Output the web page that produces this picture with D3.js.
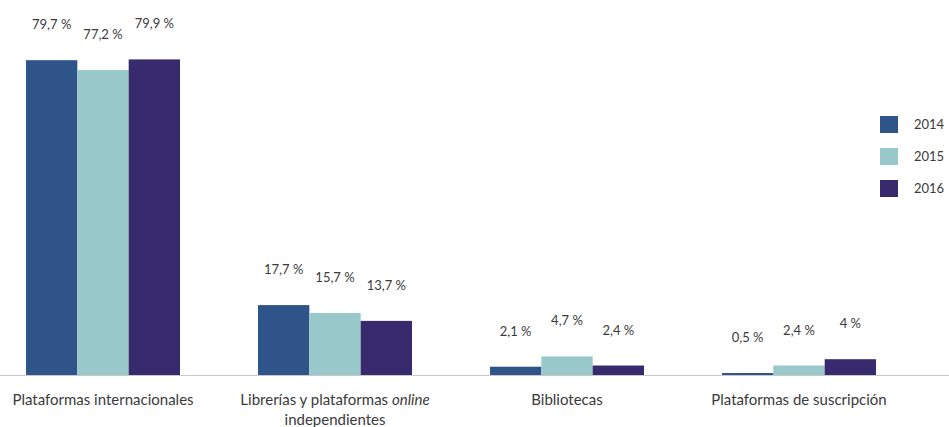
<!DOCTYPE html>
<html>
<head>
<meta charset="utf-8">
<script src="https://cdn.jsdelivr.net/npm/d3@7"></script>
<style>
  body { margin: 0; background: #fff; }
  svg text { font-family: Lato, "Open Sans", sans-serif; fill: #3a3a3a; }
</style>
</head>
<body>
<script>
// categories and series
var categories = ["Plataformas internacionales", "Librerías y plataformas online independientes", "Bibliotecas", "Plataformas de suscripción"];
var years = ["2014", "2015", "2016"];
var values2014 = [79.7, 17.7, 2.1, 0.5];
var values2015 = [77.2, 15.7, 4.7, 2.4];
var values2016 = [79.9, 13.7, 2.4, 4];
var colours = ["#2f5489", "#99c8ca", "#382b6d"];

var width = 949, height = 427;
var baseline = 375;

var series = [values2014, values2015, values2016];
var data = categories.map(function(c, i) {
  return { cat: c, vals: years.map(function(y, j) { return { year: y, v: series[j][i], k: j }; }) };
});

var svg = d3.select("body").append("svg")
  .attr("width", width)
  .attr("height", height);

var x0 = d3.scaleBand()
  .domain(categories)
  .range([-13, 915])
  .paddingInner(0.336)
  .paddingOuter(0.168);

var x1 = d3.scaleBand()
  .domain(years)
  .range([0, x0.bandwidth()]);

var y = d3.scaleLinear()
  .domain([0, 80])
  .range([baseline, baseline - 80 * 3.95]);

var fmt = function(v) { return String(v).replace(".", ",") + " %"; };

var groups = svg.selectAll("g.group")
  .data(data)
  .enter()
  .append("g")
    .attr("class", "group")
    .attr("transform", function(d) { return "translate(" + x0(d.cat) + ",0)"; });

groups.selectAll("rect")
  .data(function(d) { return d.vals; })
  .enter()
  .append("rect")
    .attr("x", function(d) { return x1(d.year); })
    .attr("width", x1.bandwidth())
    .attr("y", function(d) { return y(d.v); })
    .attr("height", function(d) { return baseline - y(d.v); })
    .attr("fill", function(d) { return colours[d.k]; });

groups.selectAll("text.val")
  .data(function(d) { return d.vals; })
  .enter()
  .append("text")
    .attr("class", "val")
    .attr("x", function(d) { return x1(d.year) + x1.bandwidth() / 2; })
    .attr("y", function(d) { return y(d.v) - 31; })
    .attr("text-anchor", "middle")
    .attr("font-size", 13)
    .text(function(d) { return fmt(d.v); });

// baseline axis
svg.append("line")
  .attr("x1", 0).attr("x2", width)
  .attr("y1", baseline + 0.5).attr("y2", baseline + 0.5)
  .attr("stroke", "#c8c8c8")
  .attr("stroke-width", 1.2);

// category labels
var catLabels = svg.selectAll("text.cat")
  .data(categories)
  .enter()
  .append("text")
    .attr("class", "cat")
    .attr("x", function(d) { return x0(d) + x0.bandwidth() / 2; })
    .attr("y", 405)
    .attr("text-anchor", "middle")
    .attr("font-size", 15);

catLabels.each(function(d) {
  var t = d3.select(this);
  if (d.indexOf("online") > -1) {
    var parts = d.split("online");
    t.append("tspan").text(parts[0]);
    t.append("tspan").attr("font-style", "italic").text("online");
    t.append("tspan")
      .attr("x", x0(d) + x0.bandwidth() / 2)
      .attr("dy", 20)
      .text(parts[1].trim());
  } else {
    t.text(d);
  }
});

// legend
var legend = svg.selectAll("g.legend")
  .data(years)
  .enter()
  .append("g")
    .attr("class", "legend")
    .attr("transform", function(d, i) { return "translate(880," + (116 + i * 32) + ")"; });

legend.append("rect")
  .attr("width", 18)
  .attr("height", 17)
  .attr("fill", function(d, i) { return colours[i]; });

legend.append("text")
  .attr("x", 34)
  .attr("y", 13)
  .attr("font-size", 13)
  .text(function(d) { return d; });
</script>
</body>
</html>
